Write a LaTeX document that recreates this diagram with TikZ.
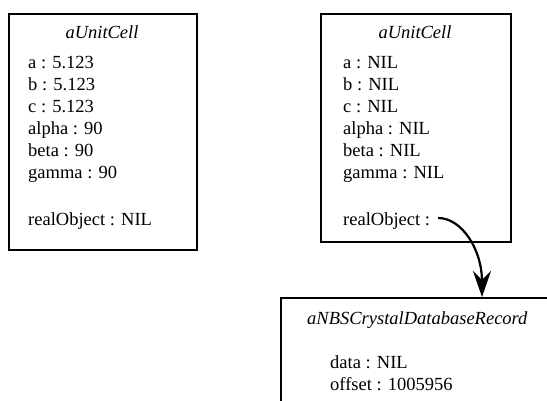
\documentclass[tikz,border=0pt]{standalone}
\usepackage{fontspec}
\setmainfont{Liberation Serif}
\usetikzlibrary{arrows.meta}
\begin{document}
\begin{tikzpicture}[x=1pt,y=-1pt,
  objbox/.style={draw, line width=1.8pt, inner sep=0pt, anchor=north west},
  field/.style={anchor=base west, inner sep=0pt, font=\fontsize{18.5}{22}\selectfont},
  objtitle/.style={anchor=base, inner sep=0pt, font=\fontsize{18.5}{22}\selectfont\itshape},
  ptr/.style={line width=2.2pt, -{Stealth[length=26pt,width=18pt,inset=9pt]}}]
\useasboundingbox (0,0) rectangle (547,401);
\clip (0,0) rectangle (547,401);

% first unit cell, filled in
\node[objbox, minimum width=188pt, minimum height=236pt] (cellA) at (8,13) {};
\node[objtitle] (tA) at (102,39) {aUnitCell};
\node[field] (aA) at (28,69)  {a : 5.123};
\node[field] (bA) at (28,91)  {b : 5.123};
\node[field] (cA) at (28,113) {c : 5.123};
\node[field] (alA) at (28,135) {alpha : 90};
\node[field] (beA) at (28,157) {beta : 90};
\node[field] (gaA) at (28,179) {gamma : 90};
\node[field] (roA) at (28,226) {realObject : NIL};

% second unit cell, still a proxy
\node[objbox, minimum width=190pt, minimum height=228pt] (cellB) at (320,13) {};
\node[objtitle] (tB) at (415,39) {aUnitCell};
\node[field] (aB) at (343,69)  {a : NIL};
\node[field] (bB) at (343,91)  {b : NIL};
\node[field] (cB) at (343,113) {c : NIL};
\node[field] (alB) at (343,135) {alpha : NIL};
\node[field] (beB) at (343,157) {beta : NIL};
\node[field] (gaB) at (343,179) {gamma : NIL};
\node[field] (roB) at (343,226) {realObject :};

% database record the proxy points to
\node[objbox, minimum width=320pt, minimum height=160pt] (rec) at (280,297) {};
\node[field, font=\fontsize{18.5}{22}\selectfont\itshape] (tR) at (307,324) {aNBSCrystalDatabaseRecord};
\node[field] (dR) at (330,368) {data : NIL};
\node[field] (oR) at (330,390) {offset : 1005956};

% pointer from realObject to the record
\coordinate (src) at ([xshift=8pt]roB.east |- 0,218);
\coordinate (dst) at (482,297);
\draw[ptr] (src) .. controls (462,218) and (482,250) .. (dst);
\end{tikzpicture}
\end{document}
